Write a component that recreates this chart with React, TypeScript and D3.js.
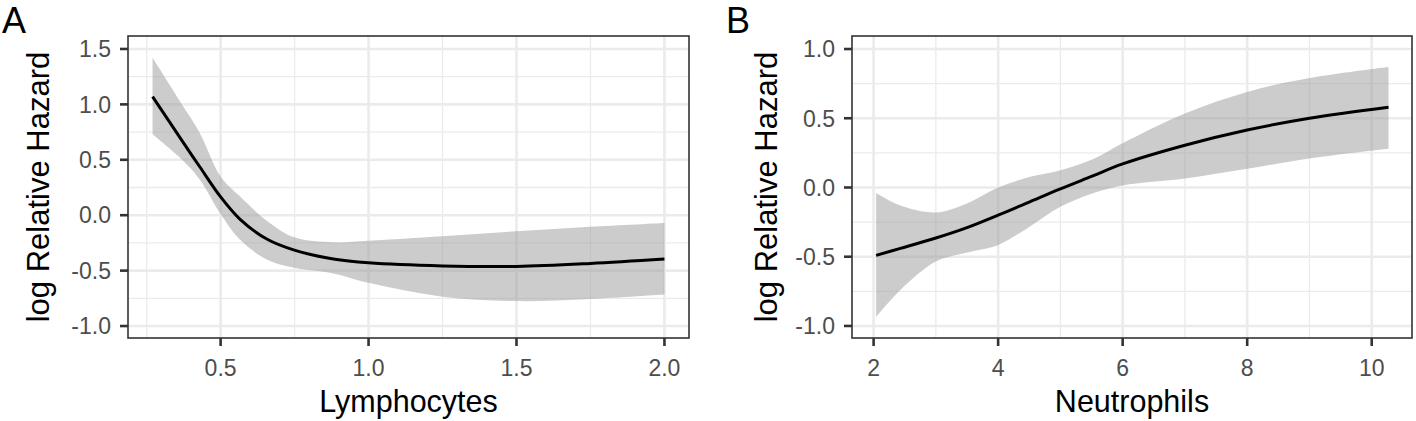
import React from "react";
import * as d3 from "d3";

// Panel A: Lymphocytes
const lymphX = [0.27, 0.374, 0.43, 0.5, 0.565, 0.656, 0.749, 0.881, 1.0, 1.25, 1.5, 1.75, 2.0];
const lymphFit = [1.07, 0.655, 0.435, 0.165, -0.035, -0.215, -0.315, -0.395, -0.43, -0.458, -0.462, -0.435, -0.395];
const lymphUpper = [1.42, 0.98, 0.74, 0.35, 0.17, -0.05, -0.2, -0.245, -0.23, -0.19, -0.145, -0.105, -0.07];
const lymphLower = [0.73, 0.49, 0.32, 0.01, -0.22, -0.4, -0.475, -0.525, -0.61, -0.735, -0.775, -0.755, -0.715];
const lymphXTicks = [0.5, 1.0, 1.5, 2.0];
const lymphXMinor = [0.25, 0.75, 1.25, 1.75];
const lymphYTicks = [-1.0, -0.5, 0.0, 0.5, 1.0, 1.5];
const lymphYMinor = [-0.75, -0.25, 0.25, 0.75, 1.25];

// Panel B: Neutrophils
const neutX = [2.04, 2.43, 3.0, 3.5, 4.0, 4.5, 5.0, 5.5, 6.0, 7.0, 8.0, 9.0, 10.27];
const neutFit = [-0.49, -0.44, -0.365, -0.29, -0.2, -0.105, -0.01, 0.08, 0.17, 0.305, 0.415, 0.5, 0.58];
const neutUpper = [-0.04, -0.13, -0.18, -0.115, 0.0, 0.075, 0.125, 0.2, 0.32, 0.535, 0.69, 0.79, 0.87];
const neutLower = [-0.935, -0.74, -0.535, -0.47, -0.415, -0.285, -0.14, -0.045, 0.015, 0.065, 0.135, 0.21, 0.28];
const neutXTicks = [2, 4, 6, 8, 10];
const neutXMinor = [3, 5, 7, 9];
const neutYTicks = [-1.0, -0.5, 0.0, 0.5, 1.0];
const neutYMinor = [-0.75, -0.25, 0.25, 0.75];

const FONT = "'Liberation Sans', Arial, Helvetica, sans-serif";

type PanelProps = {
  letter: string;
  letterX: number;
  left: number;
  right: number;
  top: number;
  bottom: number;
  xDomain: [number, number];
  yDomain: [number, number];
  xs: number[];
  fit: number[];
  upper: number[];
  lower: number[];
  xTicks: number[];
  xMinor: number[];
  yTicks: number[];
  yMinor: number[];
  xFmt: (v: number) => string;
  xTitle: string;
  yTitleX: number;
};

function Panel(p: PanelProps) {
  const x = d3.scaleLinear().domain(p.xDomain).range([p.left, p.right]);
  const y = d3.scaleLinear().domain(p.yDomain).range([p.bottom, p.top]);
  const pts = p.xs.map((v, i) => ({ x: v, f: p.fit[i], u: p.upper[i], l: p.lower[i] }));
  const curve = d3.curveCatmullRom.alpha(0.5);
  const area = d3
    .area<any>()
    .x((d) => x(d.x))
    .y0((d) => y(d.l))
    .y1((d) => y(d.u))
    .curve(curve);
  const line = d3
    .line<any>()
    .x((d) => x(d.x))
    .y((d) => y(d.f))
    .curve(curve);
  const cy = (p.top + p.bottom) / 2;
  const cx = (p.left + p.right) / 2;
  return (
    <g>
      <text x={p.letterX} y={33} fontFamily={FONT} fontSize={36} fill="#000">
        {p.letter}
      </text>
      <rect x={p.left} y={p.top} width={p.right - p.left} height={p.bottom - p.top} fill="#fff" />
      {p.xMinor.map((t) => (
        <line key={"xm" + t} x1={x(t)} x2={x(t)} y1={p.top} y2={p.bottom} stroke="#ebebeb" strokeWidth={1.3} />
      ))}
      {p.yMinor.map((t) => (
        <line key={"ym" + t} x1={p.left} x2={p.right} y1={y(t)} y2={y(t)} stroke="#ebebeb" strokeWidth={1.3} />
      ))}
      {p.xTicks.map((t) => (
        <line key={"xM" + t} x1={x(t)} x2={x(t)} y1={p.top} y2={p.bottom} stroke="#ebebeb" strokeWidth={2.6} />
      ))}
      {p.yTicks.map((t) => (
        <line key={"yM" + t} x1={p.left} x2={p.right} y1={y(t)} y2={y(t)} stroke="#ebebeb" strokeWidth={2.6} />
      ))}
      <path d={area(pts) || ""} fill="#999999" fillOpacity={0.5} />
      <path d={line(pts) || ""} fill="none" stroke="#000" strokeWidth={3} />
      <rect
        x={p.left}
        y={p.top}
        width={p.right - p.left}
        height={p.bottom - p.top}
        fill="none"
        stroke="#333"
        strokeWidth={1.6}
      />
      {p.yTicks.map((t) => (
        <g key={"yt" + t}>
          <line x1={p.left - 8} x2={p.left} y1={y(t)} y2={y(t)} stroke="#333" strokeWidth={2.6} />
          <text
            x={p.left - 17}
            y={y(t)}
            dy="0.36em"
            textAnchor="end"
            fontFamily={FONT}
            fontSize={23}
            fill="#4d4d4d"
          >
            {t.toFixed(1)}
          </text>
        </g>
      ))}
      {p.xTicks.map((t) => (
        <g key={"xt" + t}>
          <line x1={x(t)} x2={x(t)} y1={p.bottom} y2={p.bottom + 8} stroke="#333" strokeWidth={2.6} />
          <text
            x={x(t)}
            y={p.bottom + 38}
            textAnchor="middle"
            fontFamily={FONT}
            fontSize={23}
            fill="#4d4d4d"
          >
            {p.xFmt(t)}
          </text>
        </g>
      ))}
      <text x={cx} y={412} textAnchor="middle" fontFamily={FONT} fontSize={30.5} fill="#000">
        {p.xTitle}
      </text>
      <text
        transform={`translate(${p.yTitleX},${cy}) rotate(-90)`}
        textAnchor="middle"
        fontFamily={FONT}
        fontSize={31}
        fill="#000"
      >
        log Relative Hazard
      </text>
    </g>
  );
}

export default function App() {
  return (
    <svg
      width={1416}
      height={421}
      style={{ position: "absolute", left: 0, top: 0, background: "#fff" }}
    >
      <rect x={0} y={0} width={1416} height={421} fill="#fff" />
      <Panel
        letter="A"
        letterX={2}
        left={128}
        right={689}
        top={36}
        bottom={338}
        xDomain={[0.187, 2.083]}
        yDomain={[-1.108, 1.617]}
        xs={lymphX}
        fit={lymphFit}
        upper={lymphUpper}
        lower={lymphLower}
        xTicks={lymphXTicks}
        xMinor={lymphXMinor}
        yTicks={lymphYTicks}
        yMinor={lymphYMinor}
        xFmt={(v) => v.toFixed(1)}
        xTitle="Lymphocytes"
        yTitleX={49}
      />
      <Panel
        letter="B"
        letterX={726}
        left={852}
        right={1412}
        top={36}
        bottom={338}
        xDomain={[1.653, 10.647]}
        yDomain={[-1.087, 1.094]}
        xs={neutX}
        fit={neutFit}
        upper={neutUpper}
        lower={neutLower}
        xTicks={neutXTicks}
        xMinor={neutXMinor}
        yTicks={neutYTicks}
        yMinor={neutYMinor}
        xFmt={(v) => String(v)}
        xTitle="Neutrophils"
        yTitleX={777}
      />
    </svg>
  );
}
